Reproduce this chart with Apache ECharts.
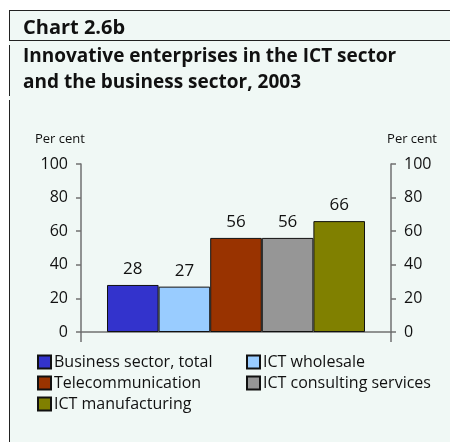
<!DOCTYPE html>
<html>
<head>
<meta charset="utf-8">
<script src="https://cdn.jsdelivr.net/npm/echarts@6/dist/echarts.min.js"></script>
<style>
  html, body { margin: 0; padding: 0; background: #ffffff; }
  #chart { width: 450px; height: 442px; }
</style>
</head>
<body>
<div id="chart"></div>
<script>
// Share of innovative enterprises, 2003 (per cent)
const seriesNames = ['Business sector, total', 'ICT wholesale', 'Telecommunication', 'ICT consulting services', 'ICT manufacturing'];
const seriesValues = [28, 27, 56, 56, 66];
const seriesColors = ['#3333cc', '#99ccff', '#993300', '#969696', '#808000'];
const categories = ['2003'];
const yMin = 0, yMax = 100, yStep = 20;
const chartLabel = 'Chart 2.6b';
const titleLines = ['Innovative enterprises in the ICT sector', 'and the business sector, 2003'];
const axisUnit = 'Per cent';

const FONT = '"Open Sans", "Noto Sans", sans-serif';
const BG = '#f0f8f5';
const AXIS = '#707070';

const chart = echarts.init(document.getElementById('chart'), null, { renderer: 'canvas' });

const yAxisBase = {
  type: 'value', min: yMin, max: yMax, interval: yStep,
  splitLine: { show: false },
  axisLine: { show: true, lineStyle: { color: AXIS, width: 1.5 } },
  axisTick: { show: true, length: 5, lineStyle: { color: AXIS, width: 1.5 } },
  axisLabel: { color: '#111', fontSize: 16, fontFamily: FONT, margin: 13 }
};

const series = seriesNames.map((name, i) => ({
  name: name,
  type: 'bar',
  data: [seriesValues[i]],
  barWidth: 51.6,
  barGap: '0%',
  itemStyle: { color: seriesColors[i], borderColor: '#111', borderWidth: 1 },
  label: {
    show: true, position: 'top', distance: 7,
    color: '#111', fontSize: 17, fontFamily: FONT
  }
}));

const legendBase = {
  orient: 'vertical',
  padding: 0,
  itemWidth: 13, itemHeight: 13, itemGap: 5,
  icon: 'rect',
  selectedMode: false,
  textStyle: { color: '#111', fontSize: 16, fontFamily: FONT, padding: [0, 0, 0, -2] }
};

chart.setOption({
  backgroundColor: '#ffffff',
  animation: false,
  grid: { left: 81, right: 59, top: 164, bottom: 110, containLabel: false },
  xAxis: {
    type: 'category', data: categories,
    axisLine: { show: true, lineStyle: { color: AXIS, width: 1.5 } },
    axisTick: { show: false },
    axisLabel: { show: false }
  },
  yAxis: [
    Object.assign({}, yAxisBase, { position: 'left' }),
    Object.assign({}, yAxisBase, { position: 'right' })
  ],
  legend: [
    Object.assign({}, legendBase, { left: 37, top: 354, data: [seriesNames[0], seriesNames[2], seriesNames[4]] }),
    Object.assign({}, legendBase, { left: 246, top: 354, data: [seriesNames[1], seriesNames[3]] })
  ],
  series: series
});

// Frame, headings and axis extensions
const yZero = chart.convertToPixel({ yAxisIndex: 0 }, 0);
const gridLeft = 81, gridRight = 450 - 59;

const lineStyle = { stroke: '#222', lineWidth: 1 };
chart.setOption({
  graphic: [
    { type: 'rect', z: -10, silent: true, shape: { x: 9, y: 10, width: 441, height: 432 }, style: { fill: BG } },
    { type: 'line', shape: { x1: 9, y1: 10.5, x2: 450, y2: 10.5 }, style: lineStyle },
    { type: 'line', shape: { x1: 9, y1: 40.5, x2: 450, y2: 40.5 }, style: lineStyle },
    { type: 'line', shape: { x1: 9.5, y1: 10, x2: 9.5, y2: 40 }, style: lineStyle },
    { type: 'line', shape: { x1: 9.5, y1: 45, x2: 9.5, y2: 96 }, style: lineStyle },
    { type: 'line', shape: { x1: 9.5, y1: 100, x2: 9.5, y2: 442 }, style: lineStyle },
    { type: 'text', x: 23, y: 28, style: { text: chartLabel, font: 'bold 20px ' + FONT, fill: '#111', verticalAlign: 'middle' } },
    { type: 'text', x: 23, y: 57, style: { text: titleLines[0], font: 'bold 19px ' + FONT, fill: '#111', verticalAlign: 'middle' } },
    { type: 'text', x: 23, y: 82.5, style: { text: titleLines[1], font: 'bold 19px ' + FONT, fill: '#111', verticalAlign: 'middle' } },
    { type: 'text', x: 35, y: 139, style: { text: axisUnit, font: '13px ' + FONT, fill: '#111', verticalAlign: 'middle' } },
    { type: 'text', x: 437, y: 139, style: { text: axisUnit, font: '13px ' + FONT, fill: '#111', verticalAlign: 'middle', align: 'right' } },
    { type: 'line', shape: { x1: gridLeft, y1: yZero, x2: gridLeft, y2: yZero + 10 }, style: { stroke: AXIS, lineWidth: 1.5 } },
    { type: 'line', shape: { x1: gridRight, y1: yZero, x2: gridRight, y2: yZero + 10 }, style: { stroke: AXIS, lineWidth: 1.5 } }
  ]
});
</script>
</body>
</html>
